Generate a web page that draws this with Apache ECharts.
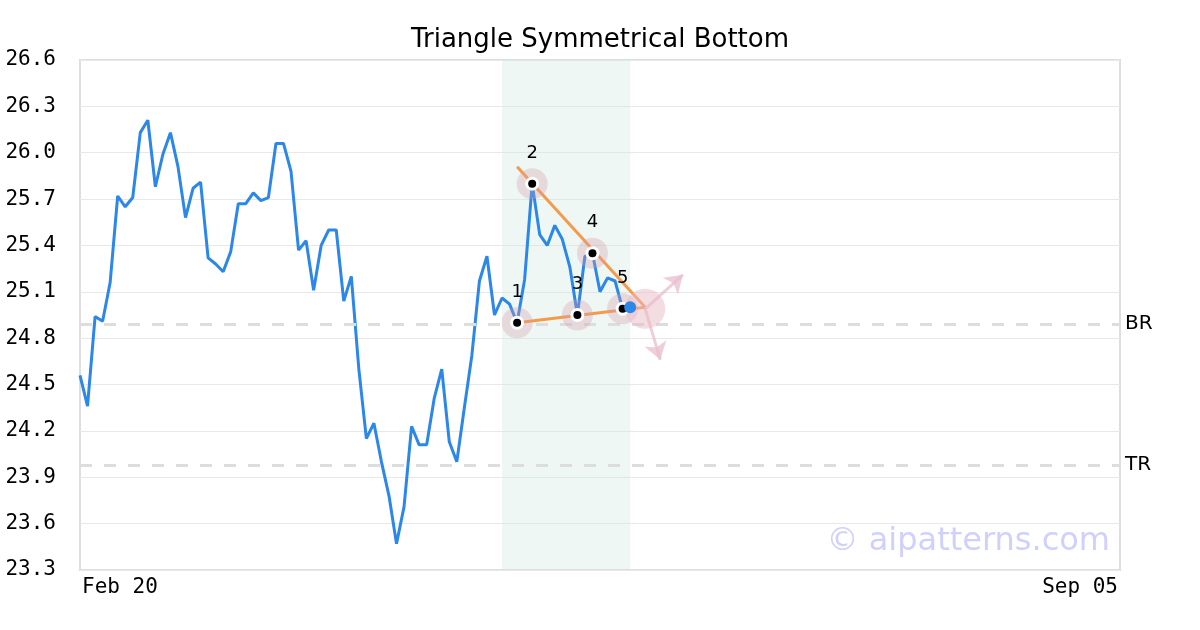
<!DOCTYPE html>
<html>
<head>
<meta charset="utf-8">
<script src="https://cdn.jsdelivr.net/npm/echarts@6/dist/echarts.min.js"></script>
<style>html,body{margin:0;padding:0;background:#fff}#c{width:1200px;height:630px}</style>
</head>
<body>
<div id="c"></div>
<script>
// ---- data ----
const titleText = 'Triangle Symmetrical Bottom';
const xTickLabels = ['Feb 20', 'Sep 05'];
const dayCount = 139;
const yTicks = [23.3, 23.6, 23.9, 24.2, 24.5, 24.8, 25.1, 25.4, 25.7, 26.0, 26.3, 26.6];
const prices = [
  24.56, 24.36, 24.94, 24.91, 25.16, 25.72, 25.65, 25.71, 26.13, 26.21,
  25.78, 25.99, 26.13, 25.91, 25.58, 25.77, 25.81, 25.32, 25.28, 25.23,
  25.36, 25.67, 25.67, 25.74, 25.69, 25.71, 26.06, 26.06, 25.88, 25.37,
  25.43, 25.11, 25.40, 25.50, 25.50, 25.04, 25.20, 24.60, 24.15, 24.25,
  24.00, 23.78, 23.47, 23.71, 24.23, 24.11, 24.11, 24.41, 24.60, 24.13,
  24.00, 24.35, 24.69, 25.17, 25.33, 24.95, 25.06, 25.02, 24.90, 25.18,
  25.80, 25.47, 25.40, 25.53, 25.44, 25.26, 24.95, 25.33, 25.35, 25.10,
  25.19, 25.17, 24.99, 25.00
];
const pivotIndex = [58, 60, 66, 68, 72];
const pivotLabels = ['1', '2', '3', '4', '5'];
const patternRange = [56, 73];
const upperTrend = [[58, 25.91], [75, 25.00]];
const lowerTrend = [[58, 24.90], [75, 25.00]];
const apex = [75, 24.99];
const arrowTips = [[79.85, 25.21], [77.4, 24.66]];
const levelNames = ['BR', 'TR'];
const levelValues = [24.89, 23.98];
const watermark = '\u00a9 aipatterns.com';

// ---- build chart ----
const categories = Array.from({length: dayCount}, (_, i) =>
  i === 0 ? xTickLabels[0] : (i === dayCount - 1 ? xTickLabels[1] : 'd' + i));
const pivotData = pivotIndex.map((idx, k) => ({value: [idx, prices[idx]], name: pivotLabels[k]}));
const lastIdx = prices.length - 1;

const chart = echarts.init(document.getElementById('c'), null, {renderer: 'canvas'});
const mono = 'DejaVu Sans Mono';
const sans = 'DejaVu Sans';
chart.setOption({
  animation: false,
  backgroundColor: '#ffffff',
  title: {
    text: titleText, left: 'center', top: 27, padding: 0,
    textStyle: {fontFamily: sans, fontSize: 26, fontWeight: 'normal', color: '#000'}
  },
  grid: {left: 80, right: 80, top: 60, bottom: 60, show: true, borderColor: '#dedede', borderWidth: 2, backgroundColor: 'transparent'},
  xAxis: {
    type: 'category', data: categories, boundaryGap: false,
    axisLine: {show: false}, axisTick: {show: false}, splitLine: {show: false},
    axisLabel: {
      interval: (i) => i === 0 || i === dayCount - 1,
      alignMinLabel: 'left', alignMaxLabel: 'right',
      fontFamily: mono, fontSize: 21, color: '#000', margin: 7,
      padding: [0, 2, 0, 2]
    }
  },
  yAxis: {
    type: 'value', min: yTicks[0], max: yTicks[yTicks.length - 1],
    axisLine: {show: false},
    axisTick: {show: false, customValues: yTicks},
    splitLine: {show: true, lineStyle: {color: '#e8e8e8', width: 1}},
    axisLabel: {customValues: yTicks, formatter: (v) => v.toFixed(1), fontFamily: mono, fontSize: 21, color: '#000', margin: 24, padding: [4, 0, 0, 0]}
  },
  graphic: [{
    type: 'text', x: 1110, y: 542, z: 100,
    style: {text: watermark, font: '32px "DejaVu Sans"', fill: '#d0d0fd', textAlign: 'right', textVerticalAlign: 'middle'}
  }],
  series: [
    {
      type: 'line', data: prices, symbol: 'none', z: 3,
      lineStyle: {color: '#2b87e8', width: 3}, itemStyle: {color: '#2b87e8'},
      markArea: {silent: true, itemStyle: {color: 'rgba(205,232,220,0.35)'},
        data: [[{xAxis: patternRange[0]}, {xAxis: patternRange[1]}]]},
      markLine: {
        silent: true, symbol: 'none',
        lineStyle: {color: '#dddddd', width: 3, type: [12, 12]},
        label: {position: 'end', formatter: (p) => p.name, fontFamily: sans, fontSize: 20, color: '#000', distance: 5, padding: [8, 0, 0, 0]},
        data: levelValues.map((v, k) => ({yAxis: v, name: levelNames[k]}))
      }
    },
    {type: 'line', data: upperTrend, symbol: 'none', z: 4, lineStyle: {color: '#f59a4b', width: 3}},
    {type: 'line', data: lowerTrend, symbol: 'none', z: 4, lineStyle: {color: '#f59a4b', width: 3}},
    {
      type: 'scatter', data: pivotData, symbolSize: 31, z: 5,
      itemStyle: {color: 'rgba(215,155,170,0.32)', opacity: 1},
      label: {show: true, position: 'top', distance: 6, formatter: (p) => p.name, fontFamily: sans, fontSize: 18, color: '#000'}
    },
    {type: 'scatter', data: pivotData, symbolSize: 14, z: 6, itemStyle: {color: '#ffffff', opacity: 1}},
    {type: 'scatter', data: pivotData, symbolSize: 8, z: 7, itemStyle: {color: '#000000', opacity: 1}},
    {
      type: 'scatter', data: [apex], symbolSize: 40, z: 5,
      itemStyle: {color: 'rgba(232,185,198,0.5)', opacity: 1},
      markLine: {
        silent: true, symbol: ['none', 'arrow'], symbolSize: 17,
        lineStyle: {color: 'rgba(232,190,205,0.75)', width: 3, type: 'solid'},
        label: {show: false},
        data: arrowTips.map((t) => [{coord: apex}, {coord: t}])
      }
    },
    {type: 'scatter', data: [[lastIdx, prices[lastIdx]]], symbolSize: 12, z: 8, itemStyle: {color: '#2b87e8', opacity: 1}}
  ]
});
</script>
</body>
</html>
